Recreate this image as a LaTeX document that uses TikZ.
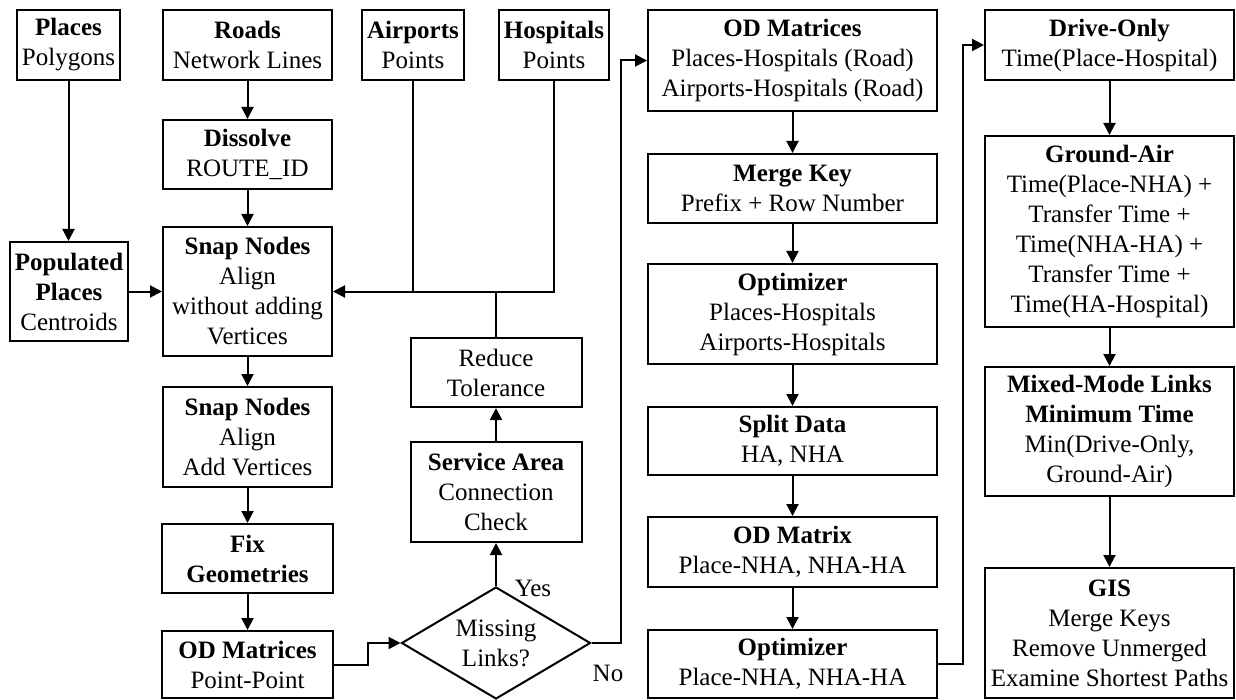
\documentclass[tikz,border=0pt]{standalone}
\usepackage{fontspec}
\setmainfont{Liberation Serif}
\usepackage{tikz}
\usetikzlibrary{shapes,arrows}
\usetikzlibrary{arrows.meta, positioning}

\begin{document}
\begin{tikzpicture}[x=0.5pt, y=-0.5pt, line width=1pt,
    >={Triangle[length=6pt,width=6pt]},
    box/.style={draw, align=center, inner sep=0pt, font=\fontsize{12.5}{15}\selectfont},
    decision/.style={draw, diamond, aspect=1.7, inner sep=0pt, align=center, font=\fontsize{12.5}{15}\selectfont},
    lbl/.style={font=\fontsize{12.5}{15}\selectfont}]
        \useasboundingbox (0,0) rectangle (1236,700);

        % inputs
        \node[box, minimum width=51.5pt, minimum height=35pt] (places) at (68.5,45) {\textbf{Places}\\Polygons};
        \node[box, minimum width=84.5pt, minimum height=35pt] (roads) at (247.5,45) {\textbf{Roads}\\Network Lines};
        \node[box, minimum width=51pt, minimum height=35pt] (airports) at (413,45) {\textbf{Airports}\\Points};
        \node[box, minimum width=55pt, minimum height=35pt] (hospitals) at (554,45) {\textbf{Hospitals}\\Points};

        % network preparation
        \node[box, minimum width=84.5pt, minimum height=34.5pt] (dissolve) at (247.5,154.5) {\textbf{Dissolve}\\ROUTE\_ID};
        \node[box, minimum width=59pt, minimum height=49.5pt] (pop) at (69,291.5) {\textbf{Populated}\\\textbf{Places}\\Centroids};
        \node[box, minimum width=84.5pt, minimum height=64.5pt] (snap1) at (247.5,291.5) {\textbf{Snap Nodes}\\Align\\without adding\\Vertices};
        \node[box, minimum width=84.5pt, minimum height=50pt] (snap2) at (247.5,437) {\textbf{Snap Nodes}\\Align\\Add Vertices};
        \node[box, minimum width=85.5pt, minimum height=34.5pt] (fix) at (247.5,558.5) {\textbf{Fix}\\\textbf{Geometries}};
        \node[box, minimum width=85.5pt, minimum height=33.5pt] (odpp) at (247.5,664.5) {\textbf{OD Matrices}\\Point-Point};

        % connection check
        \node[decision, minimum width=94.5pt, minimum height=56pt] (miss) at (496,643) {Missing\\Links?};
        \node[box, minimum width=85.5pt, minimum height=50pt] (service) at (496,492) {\textbf{Service Area}\\Connection\\Check};
        \node[box, minimum width=85.5pt, minimum height=34.5pt] (reduce) at (496,372.5) {Reduce\\Tolerance};
        \node[lbl] (yes) at (533,588) {Yes};
        \node[lbl] (no) at (608,673) {No};

        % OD matrices column
        \node[box, minimum width=144.5pt, minimum height=50.5pt] (odm) at (792.5,60.5) {\textbf{OD Matrices}\\Places-Hospitals (Road)\\Airports-Hospitals (Road)};
        \node[box, minimum width=144.5pt, minimum height=34.5pt] (merge) at (792.5,188.5) {\textbf{Merge Key}\\Prefix + Row Number};
        \node[box, minimum width=144.5pt, minimum height=50pt] (optim1) at (792.5,314) {\textbf{Optimizer}\\Places-Hospitals\\Airports-Hospitals};
        \node[box, minimum width=144.5pt, minimum height=34pt] (split) at (792.5,441) {\textbf{Split Data}\\HA, NHA};
        \node[box, minimum width=144.5pt, minimum height=35pt] (odmat) at (792.5,552) {\textbf{OD Matrix}\\Place-NHA, NHA-HA};
        \node[box, minimum width=144.5pt, minimum height=34pt] (optim2) at (792.5,664) {\textbf{Optimizer}\\Place-NHA, NHA-HA};

        % travel times column
        \node[box, minimum width=124.5pt, minimum height=35pt] (drive) at (1109.5,45) {\textbf{Drive-Only}\\Time(Place-Hospital)};
        \node[box, minimum width=124.5pt, minimum height=95.5pt] (ground) at (1109.5,231.5) {\textbf{Ground-Air}\\Time(Place-NHA) +\\Transfer Time +\\Time(NHA-HA) +\\Transfer Time +\\Time(HA-Hospital)};
        \node[box, minimum width=124.5pt, minimum height=64.5pt] (mixed) at (1109.5,431.5) {\textbf{Mixed-Mode Links}\\\textbf{Minimum Time}\\Min(Drive-Only,\\Ground-Air)};
        \node[box, minimum width=124.5pt, minimum height=65pt] (gis) at (1109.5,633) {\textbf{GIS}\\Merge Keys\\Remove Unmerged\\Examine Shortest Paths};

        \draw[->] (places) -- (places |- pop.north);
        \draw[->] (roads) -- (dissolve);
        \draw[->] (dissolve) -- (snap1);
        \draw[->] (pop) -- (snap1);
        \draw (airports) -- (airports |- snap1);
        \draw[->] (hospitals) |- (snap1);
        \draw (reduce) -- (reduce |- snap1);
        \draw[->] (snap1) -- (snap2);
        \draw[->] (snap2) -- (fix);
        \draw[->] (fix) -- (odpp);
        \draw[->] (odpp.east) -- ++(34,0) |- (miss.west);
        \draw[->] (miss) -- (service);
        \draw[->] (service) -- (reduce);
        \draw[->] (miss.east) -- ++(29,0) |- (odm.west);
        \draw[->] (odm) -- (merge);
        \draw[->] (merge) -- (optim1);
        \draw[->] (optim1) -- (split);
        \draw[->] (split) -- (odmat);
        \draw[->] (odmat) -- (optim2);
        \draw[->] (optim2.east) -- ++(25,0) |- (drive.west);
        \draw[->] (drive) -- (ground);
        \draw[->] (ground) -- (mixed);
        \draw[->] (mixed) -- (gis);
  \end{tikzpicture}
\end{document}
